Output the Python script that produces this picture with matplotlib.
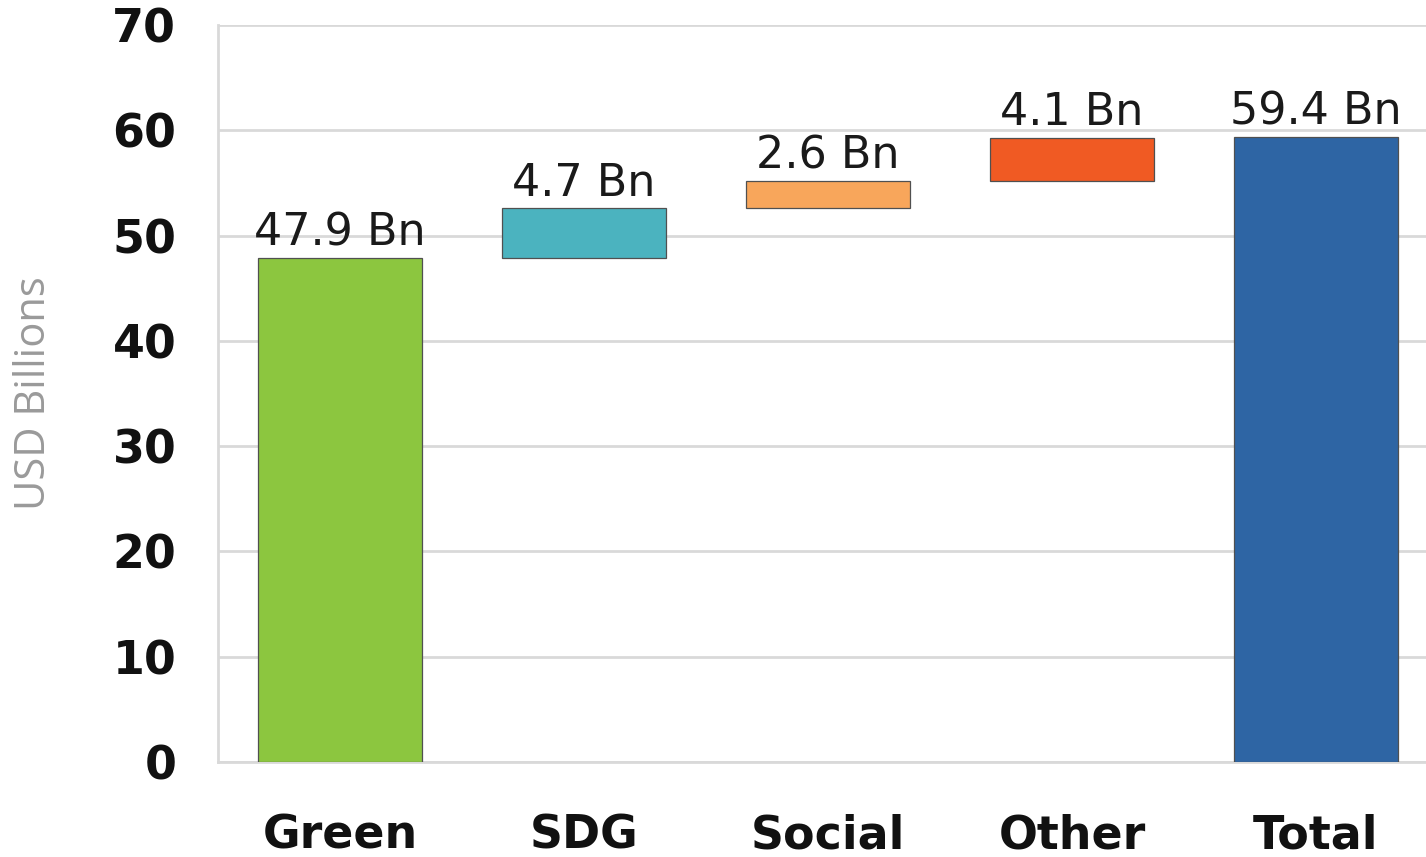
import numpy as np
import matplotlib.pyplot as plt

# waterfall data (USD billions)
categories = ["Green", "SDG", "Social", "Other", "Total"]
steps = [47.9, 4.7, 2.6, 4.1]
total = 59.4
value_labels = ["47.9 Bn", "4.7 Bn", "2.6 Bn", "4.1 Bn", "59.4 Bn"]
colors = ["#8cc63f", "#4bb3bf", "#f8a65b", "#f05a23", "#2e65a4"]

heights = steps + [total]
bottoms = list(np.concatenate([[0], np.cumsum(steps)[:-1]])) + [0]

fig = plt.figure(figsize=(14.26, 8.57), dpi=100)
ax = fig.add_axes([0.1529, 0.1109, 0.8555, 0.8599])

x = np.arange(len(categories))
bars = ax.bar(x, heights, bottom=bottoms, width=0.67, color=colors,
              edgecolor="#505050", linewidth=0.9, zorder=3)

for b, lab in zip(bars, value_labels):
    ax.annotate(lab, (b.get_x() + b.get_width() / 2, b.get_y() + b.get_height()),
                xytext=(0, 9), textcoords="offset points", ha="center",
                va="baseline", fontsize=32, family="DejaVu Sans", color="#1a1a1a")

ax.set_xlim(-0.5, 4.5)
ax.set_ylim(0, 70)
ax.set_yticks(np.arange(0, 71, 10))
ax.set_xticks(x)
ax.set_xticklabels(categories)
ax.tick_params(axis="both", length=0, labelsize=33)
ax.tick_params(axis="y", pad=30)
ax.tick_params(axis="x", pad=37)
for t in ax.get_xticklabels() + ax.get_yticklabels():
    t.set_fontweight("bold")
    t.set_color("#111111")

ax.grid(axis="y", color="#d9d9d9", linewidth=2, zorder=0)
ax.set_axisbelow(True)
for s in ["top", "right"]:
    ax.spines[s].set_visible(False)
for s in ["left", "bottom"]:
    ax.spines[s].set_color("#d9d9d9")
    ax.spines[s].set_linewidth(2)

ax.set_ylabel("USD Billions", fontsize=30, color="#9a9a9a", family="Open Sans")
ax.yaxis.set_label_coords(-0.1336, 0.5)

fig.savefig("out.png", dpi=100)
